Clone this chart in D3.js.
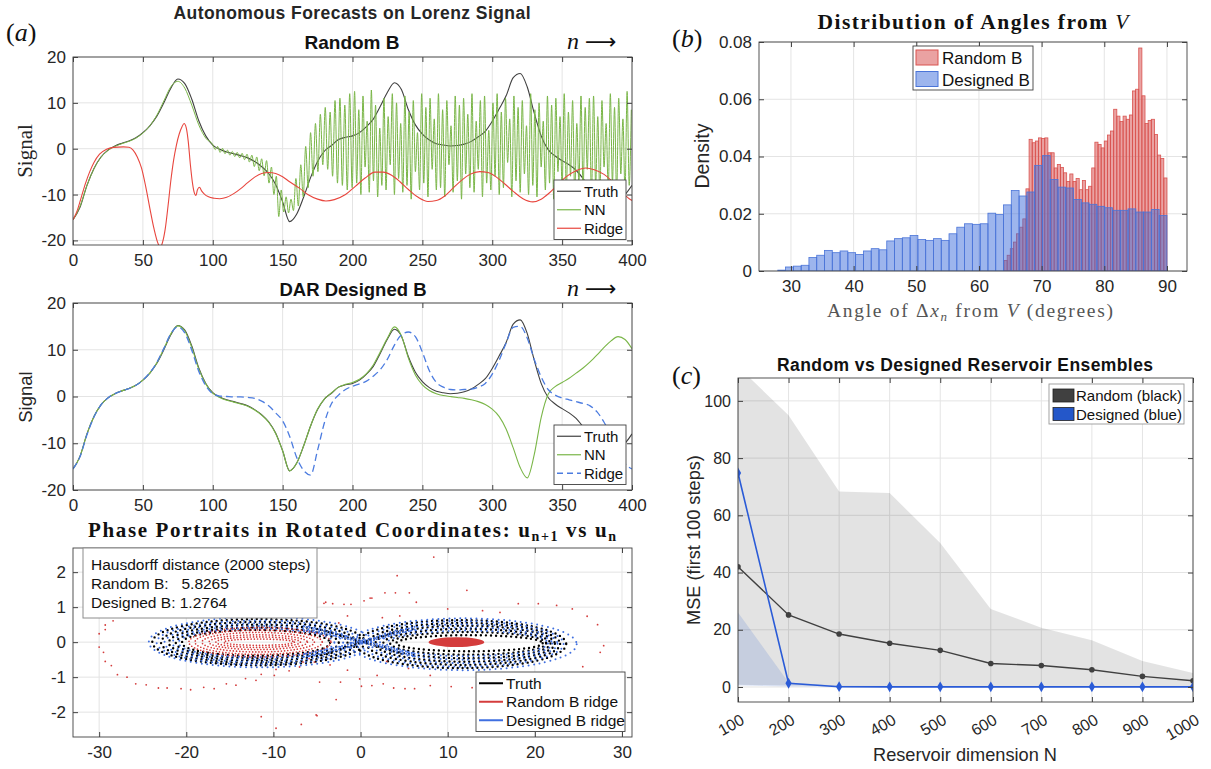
<!DOCTYPE html>
<html>
<head>
<meta charset="utf-8">
<script src="https://cdn.jsdelivr.net/npm/d3@7"></script>
<style>
body { margin: 0; background: #fff; }
svg { display: block; font-family: "Liberation Sans", Arial, Helvetica, sans-serif; }
.pre { white-space: pre; }
</style>
</head>
<body>
<script>
// ---------------------------------------------------------------
// data
// ---------------------------------------------------------------

// time series, n = 0,5,...,400
var nStep = 5;
var truth = [
  -15.5,-12.8,-8.0,-4.3,-1.8,-0.3,0.6,1.2,1.7,2.4,
  3.5,5.0,7.1,10.0,13.2,15.2,14.2,10.8,6.1,2.8,
  0.8,-0.1,-0.7,-1.1,-1.5,-2.0,-2.8,-3.9,-5.4,-7.8,
  -11.6,-15.9,-14.3,-10.6,-6.3,-2.8,-0.5,0.7,2.0,2.5,
  2.8,3.5,4.8,6.5,9.3,12.3,14.4,12.9,8.5,5.2,
  3.2,1.9,1.1,0.8,0.6,0.7,1.0,1.6,2.6,3.8,
  6.0,8.7,11.6,15.5,16.4,13.5,7.8,2.8,-0.2,-1.6,
  -2.6,-3.5,-4.7,-6.5,-8.5,-10.0,-11.0,-11.3,-11.0,-10.0,
  -8.0];

// Random B: NN, smooth part n = 0..95 (step 5), then zigzag parts
var nnRandomSmooth = [-15.5,-12.6,-8.0,-4.4,-1.9,-0.4,0.5,1.1,1.6,2.3,3.4,5.0,7.3,10.4,13.5,14.7,13.2,9.5,5.2,2.3];
var nnRandomZigAStart = 100, nnRandomZigAStep = 1.75;
var nnRandomZigA = [
  0.9,-0.2,0.5,-0.8,0.1,-1.1,-0.3,-1.4,-0.6,-1.7,-0.8,-2.0,-1.0,-2.4,-1.2,-2.9,
  -1.4,-3.9,-1.8,-4.8,-2.2,-5.9,-2.6,
  -7.5,-4.0,-10.0,-6.0,-14.8,-9.0,-13.8,-10.5,-14.0,-11.0,-13.5,
  -6.5,-12.5,-3.5,-10.5,0.5,-8.5,3.5,-6.0,5.5,-5.0,
  7.5,-3.5,9.0,-4.5,8.0,-6.0,10.5,-7.5,11.0,-8.0,9.5,-9.0,12.0,-8.5];
var nnRandomZigBStart = 201.5, nnRandomZigBStep = 1.5;
var nnRandomZigB = [
  12.5,-7.5,8.5,-10.0,11.5,-4.0,6.0,-9.5,12.8,-7.0,9.5,-10.5,4.5,-8.0,11.0,-9.0,7.0,-3.5,12.0,-10.0,
  10.0,-6.5,5.5,-9.5,11.5,-8.0,8.0,-11.0,10.5,-5.0,3.5,-9.0,12.0,-7.5,9.0,-10.5,11.0,-4.5,6.5,-9.0,
  12.0,-8.5,8.5,-10.5,10.5,-3.5,5.0,-9.5,11.5,-7.0,9.5,-11.0,11.0,-5.5,7.5,-8.5,12.0,-9.5,6.0,-4.5,
  10.5,-10.5,11.5,-7.5,4.0,-9.0,10.0,-6.0,12.0,-10.0,8.0,-8.5,11.0,-3.0,6.5,-10.5,11.5,-7.0,9.0,-9.5,
  10.5,-5.5,5.0,-10.0,12.0,-8.0,8.5,-10.5,10.0,-4.0,6.0,-9.0,11.5,-7.5,9.5,-11.0,11.0,-5.0,7.0,-8.5,
  12.0,-9.5,8.0,-6.0,10.5,-10.0,5.5,-7.5,11.5,-9.0,9.0,-4.5,11.0,-10.5,
  11.5,-8.0,7.0,-10.5,10.5,-4.0,5.5,-9.0,12.0,-7.5,9.0,-10.0,11.0,-5.5,6.5,-9.5,12.5,-8.0,8.5];

// Random B: ridge
var ridgeRandomN = [0,3,6,9,12,15,19,24,29,36,40,43,46,49,52,55,58,61,62.5,64,
  66,68,70,72,74,76,78,79.5,81,82.5,84,85.5,87,88,89,90.5,92,94,97,101,
  105,110,115,120,125,130,135,140,145,150,155,162,168,175,181,187,195,202,209,216,
  222,228,234,240,247,254,260,266,272,278,284,291,297,303,309,315,322,329,335,341,
  347,353,360,367,373,380,386,392,398,400];
var ridgeRandomV = [-15.5,-13.5,-10.5,-7.5,-5,-3,-1.2,-0.1,0.3,0.4,0.3,-0.3,-1.8,-4.2,-8.2,-13,-17.5,-20.8,-21.5,-20.5,
  -17.5,-12.5,-7,-2.5,0.8,3.2,4.8,5.5,4.6,1.5,-3.5,-7.5,-9.8,-10.2,-9.0,-8.4,-9.2,-9.9,-10.5,-10.8,
  -10.9,-10.6,-9.8,-8.7,-7.4,-6.2,-5.4,-5.2,-5.4,-6.1,-7.2,-8.6,-10,-11,-11.4,-11.1,-10,-8.2,-6.4,-5.1,
  -5.1,-5.8,-7.2,-8.9,-10.6,-11.5,-11.3,-10.3,-8.6,-6.9,-5.6,-5.0,-5.2,-6.2,-7.7,-9.3,-10.9,-11.6,-11,-9.6,
  -7.8,-6.1,-4.8,-4.2,-4.6,-5.6,-7.2,-9.2,-10.9,-11.3];

// DAR designed B, n = 0,5,...,400
var nnDesigned = [
  -15.5,-12.8,-8.0,-4.3,-1.8,-0.3,0.6,1.2,1.7,2.4,
  3.5,5.0,7.2,10.2,13.4,15.1,14.0,10.5,5.9,2.7,
  0.7,-0.2,-0.8,-1.2,-1.6,-2.1,-2.9,-4.0,-5.5,-7.9,
  -11.6,-15.9,-14.3,-10.6,-6.3,-2.7,-0.5,0.8,2.0,2.6,
  3.0,3.7,4.9,6.8,9.6,
  12.5,14.9,13.0,8.2,4.6,2.5,1.3,0.6,0.2,0.0,
  -0.2,-0.4,-0.7,-1.1,-1.7,-2.7,-4.3,-7.0,-11.0,-15.2,
  -17.4,-12.5,-4.5,0.5,2.1,3.0,3.9,5.0,6.1,7.4,
  8.9,10.5,11.9,12.8,12.2,10.2];
var ridgeDesigned = [
  -15.5,-12.9,-8.2,-4.4,-1.8,-0.3,0.6,1.2,1.7,2.4,
  3.5,5.1,7.3,10.3,13.4,14.9,13.6,9.9,5.4,2.3,
  0.6,0.1,0.0,-0.1,-0.1,-0.2,-0.4,-1.0,-2.0,-3.5,
  -5.2,-8.5,-13.0,-15.8,-16.8,-11.5,-5.5,-1.5,0.3,1.5,
  2.2,2.7,3.3,4.4,5.8,8.0,11.0,13.2,13.8,12.8,
  9.5,5.5,3.0,2.0,1.5,1.4,1.5,1.6,2.0,2.8,
  4.8,7.8,11.5,14.8,15.0,12.5,8.0,4.2,1.5,0.3,
  -0.3,-0.7,-1.1,-1.5,-2.0,-3.3,-5.5,-8.3,-11.5,-14.3,
  -15.5];

var ticksN = [0,50,100,150,200,250,300,350,400];
var ticksSignalTop = [-20,-10,0,10,20];
var ticksSignalMid = [-20,-10,0,10,20];

// phase portrait: rings as [uLeft, uRight, top, bottom]
var truthRingsL = [[-23.9,0.5,0.66,-0.66],[-22.9,-0.5,0.58,-0.6],[-22.0,-1.5,0.5,-0.53],[-21.2,-2.5,0.42,-0.46],[-20.5,-3.5,0.35,-0.39]];
var truthRingsR = [[-0.5,23.6,0.63,-0.74],[0.7,22.9,0.55,-0.65],[1.7,22.3,0.47,-0.56],[2.6,21.8,0.38,-0.46],[3.4,21.3,0.29,-0.36],[4.1,20.9,0.2,-0.26]];
var truthCross = [[[-5,0.38],[0,0.03],[5,-0.36]],[[-5,-0.4],[0,-0.02],[5,0.37]]];
var blueRingsL = [[-24.3,1.2,0.72,-0.72],[-23.4,0,0.62,-0.64],[-22.5,-1,0.54,-0.57],[-21.6,-2,0.46,-0.5],[-20.9,-3,0.39,-0.43]];
var blueRingsR = [[-1.2,24.8,0.68,-0.8],[0.1,23.3,0.6,-0.7],[1.2,22.6,0.51,-0.6],[2.2,22.0,0.42,-0.5],[3.0,21.5,0.33,-0.4]];
var blueCross = [
  [[-6.5,0.45],[-3,0.26],[0,0.06],[3,-0.12],[6.5,-0.35]],
  [[-6.5,0.35],[-3,0.18],[0,0.0],[3,-0.18],[6.5,-0.42]],
  [[-6.5,-0.42],[-3,-0.24],[0,-0.05],[3,0.16],[6.5,0.38]],
  [[-6.5,-0.34],[-3,-0.16],[0,0.02],[3,0.22],[6.5,0.46]]];
var redRingsL = [[-19.7,-3.4,0.42,-0.42],[-19.0,-4.4,0.35,-0.35],[-18.2,-5.3,0.28,-0.28],[-17.4,-6.1,0.21,-0.21],[-16.6,-6.9,0.15,-0.15],[-15.7,-7.6,0.09,-0.09]];
var redBlobR = [[7.8,14.2,0.14,-0.14]];
var redScatter = [
  [-30,0.24],[-30,-0.14],[-29.5,-0.29],[-29.3,-0.55],[-28.6,-0.67],[-27.9,-0.93],[-26.8,-1.0],[-25.8,-1.19],[-24.6,-1.22],[-23.2,-1.31],
  [-22.2,-1.31],[-20.6,-1.33],[-19.5,-1.36],[-18,-1.29],[-16.8,-1.33],[-15.4,-1.19],[-14.3,-1.23],[-13.2,-1.04],[-12,-1.09],[-11.4,-0.92],
  [-9.9,-0.95],[-9.7,-0.78],[-8.2,-0.82],[-7.0,-0.71],[-6.6,-0.57],[-5.9,-0.47],[-5.3,-0.57],[-11.4,-2.13],[-9.7,-2.46],[-6.8,-2.35],
  [-5.1,-2.08],[-4.7,-1.14],[-4.2,1.11],[-29.3,0.49],[-29.3,0.36],[-28.4,0.61],
  [8.4,2.43],[4.2,1.9],[2.8,1.41],[4.0,1.41],[5.6,1.41],[12.2,1.48],[6.4,1.14],[0.4,1.18],[1.1,1.26],[1.3,1.26],
  [-1.1,1.08],[-1.9,1.08],[-3.2,1.1],[-4.0,1.14],[18.1,1.1],[20.4,1.1],[22.5,1.05],[24.3,0.95],[26.0,0.74],[27.2,0.5],
  [27.9,-0.1],[27.5,-0.29],[25.5,-0.7],[12.8,-1.3],[10.4,-1.27],[8.0,-1.24],[6.2,-1.33],[5.1,-1.33],[3.8,-1.31],[2.6,-1.19],
  [1.3,-1.24],[0.1,-1.26],[-0.1,-1.05],[-2.3,-1.14],[-2.8,-1.64],[-5.0,-2.1],[1.9,-0.95],
  [-2.5,0.55],[-1.5,0.75],[2.5,0.7],[4.5,0.75],[3.0,-0.55],[5.5,-0.75],[-3.5,-0.65],[-1.5,-0.8],
  [10,0.95],[14,0.9],[16,0.85],[8,-0.95],[15,-0.95],[18,-0.95],[-10,0.9]];
var ticksU = [-30,-20,-10,0,10,20,30];
var ticksU1 = [-2,-1,0,1,2];
var hausdorffLines = ["Hausdorff distance (2000 steps)", "Random B:   5.8265", "Designed B: 1.2764"];

// histogram of angles
var redBinStart = 64.0, redBinWidth = 0.5;
var histRandom = [
  0.0037,0.0055,0.0078,0.0101,0.013,0.0153,0.0182,0.0287,
  0.046,0.0448,0.0454,0.0465,0.0463,0.0465,0.0413,0.0413,0.036,0.0372,0.0362,0.0343,0.0313,0.0339,0.0313,0.0323,0.0284,0.0316,0.0284,0.0296,0.036,
  0.045,0.0442,0.043,0.0454,0.0475,0.0489,0.0565,0.0541,0.0522,0.0541,0.053,0.0545,0.0629,0.0635,0.0779,0.0612,0.0515,0.0526,0.053,0.0477,0.0405,0.0393,0.0325];
var blueBinStart = 27.9, blueBinWidth = 1.242;
var histDesigned = [
  0.0003,0.0014,0.0017,0.002,0.0047,0.0055,0.0072,0.0064,0.007,0.0064,0.0058,
  0.007,0.0078,0.0074,0.0105,0.0113,0.0116,0.0124,0.011,0.0107,0.0113,
  0.0107,0.013,0.0153,0.0165,0.0163,0.0165,0.0202,0.0197,0.0231,0.0281,
  0.0262,0.0276,0.0369,0.0403,0.032,0.0293,0.029,0.025,0.0238,0.0233,
  0.0226,0.0221,0.0212,0.0212,0.0217,0.0206,0.0206,0.0215,0.0194];
var ticksAngle = [30,40,50,60,70,80,90];
var ticksDensity = [0,0.02,0.04,0.06,0.08];
var ticksDensityLabels = ["0","0.02","0.04","0.06","0.08"];

// reservoir ensembles
var resN = [100,200,300,400,500,600,700,800,900,1000];
var mseRandom = [42,25.2,18.5,15.3,12.8,8.2,7.5,6.0,3.7,2.2];
var mseDesigned = [74.8,1.3,0.1,0.05,0.05,0.05,0.05,0.05,0.05,0.05];
var bandRandomHi = [112,95,68.3,67.8,50.3,27.3,20.7,16.3,9.1,4.9];
var bandRandomLo = [0.8,0.5,0.3,0.3,0.3,0.2,0.2,0.2,0.2,0.2];
var bandDesignedHi = [26,1.6,0.4,0.3,0.3,0.3,0.3,0.3,0.3,0.3];
var bandDesignedLo = [0.5,0.2,0.05,0.05,0.05,0.05,0.05,0.05,0.05,0.05];
var ticksMSE = [0,20,40,60,80,100];

// ---------------------------------------------------------------
// drawing
// ---------------------------------------------------------------
var W = 1211, H = 769;
var svg = d3.select("body").append("svg").attr("width", W).attr("height", H);
var defs = svg.append("defs");
var clipCount = 0;

var cTruth = "#404040", cNN = "#7ab648", cRidge = "#e8463e", cRidgeBlue = "#4c7ce0";
var cRed = "#d43c3c", cBlue = "#3f6fe0";

function makePanel(o) {
  var p = {o: o};
  p.x = d3.scaleLinear().domain(o.xDomain).range([o.left, o.right]);
  p.y = d3.scaleLinear().domain(o.yDomain).range([o.bottom, o.top]);
  p.g = svg.append("g");
  var id = "clip" + (clipCount++);
  defs.append("clipPath").attr("id", id).append("rect")
    .attr("x", o.left).attr("y", o.top)
    .attr("width", o.right - o.left).attr("height", o.bottom - o.top);
  var grid = p.g.append("g").attr("stroke", "#e4e4e4").attr("stroke-width", 1);
  grid.selectAll("line.gx").data(o.xTicks).join("line").attr("class", "gx")
    .attr("x1", d => p.x(d)).attr("x2", d => p.x(d))
    .attr("y1", o.top).attr("y2", o.bottom);
  grid.selectAll("line.gy").data(o.yTicks).join("line").attr("class", "gy")
    .attr("x1", o.left).attr("x2", o.right)
    .attr("y1", d => p.y(d)).attr("y2", d => p.y(d));
  p.plot = p.g.append("g").attr("clip-path", "url(#" + id + ")");
  return p;
}

function styleAxis(a, fs) {
  a.attr("font-size", fs).attr("font-family", null).attr("color", "#262626");
  a.select(".domain").remove();
  a.selectAll(".tick line").attr("stroke", "#404040");
}

function drawFrame(p, opt) {
  var o = p.o;
  var fr = p.g.append("g");
  var xl = opt.xLabels || o.xTicks.map(String);
  var yl = opt.yLabels || o.yTicks.map(String);
  var bx = fr.append("g").attr("transform", "translate(0," + o.bottom + ")")
    .call(d3.axisBottom(p.x).tickValues(o.xTicks).tickSize(-5).tickSizeOuter(0)
      .tickPadding(opt.xPad).tickFormat(d => xl[o.xTicks.indexOf(d)]));
  styleAxis(bx, opt.fs);
  var ly = fr.append("g").attr("transform", "translate(" + o.left + ",0)")
    .call(d3.axisLeft(p.y).tickValues(o.yTicks).tickSize(-5).tickSizeOuter(0)
      .tickPadding(opt.yPad).tickFormat(d => yl[o.yTicks.indexOf(d)]));
  styleAxis(ly, opt.fs);
  var tx = fr.append("g").attr("transform", "translate(0," + o.top + ")")
    .call(d3.axisTop(p.x).tickValues(o.xTicks).tickSize(-5).tickSizeOuter(0).tickFormat(""));
  styleAxis(tx, opt.fs);
  var ry = fr.append("g").attr("transform", "translate(" + o.right + ",0)")
    .call(d3.axisRight(p.y).tickValues(o.yTicks).tickSize(-5).tickSizeOuter(0).tickFormat(""));
  styleAxis(ry, opt.fs);
  fr.append("rect").attr("x", o.left).attr("y", o.top)
    .attr("width", o.right - o.left).attr("height", o.bottom - o.top)
    .attr("fill", "none").attr("stroke", "#404040").attr("stroke-width", 0.9);
  return {bottom: bx};
}

function text(x, y, str, attrs) {
  var t = svg.append("text").attr("x", x).attr("y", y).text(str);
  for (var k in attrs) t.attr(k, attrs[k]);
  return t;
}

function lineLegend(x0, y0, w, rows, entries, fs, sample) {
  var lg = svg.append("g");
  lg.append("rect").attr("x", x0).attr("y", y0).attr("width", w).attr("height", rows * entries.length + 4)
    .attr("fill", "#fff").attr("stroke", "#404040").attr("stroke-width", 0.9);
  entries.forEach(function(e, i) {
    var cy = y0 + 2 + rows * (i + 0.5);
    lg.append("line").attr("x1", x0 + 3).attr("x2", x0 + 3 + sample).attr("y1", cy).attr("y2", cy)
      .attr("stroke", e.color).attr("stroke-width", e.width || 1.2)
      .attr("stroke-dasharray", e.dash || null);
    lg.append("text").attr("x", x0 + 6 + sample).attr("y", cy).attr("dy", "0.36em")
      .attr("font-size", fs).attr("fill", "#111").text(e.label);
  });
}

function nArrow(x, y) {
  var t = text(x, y, "", {"font-size": 24, "font-family": serif, fill: "#111"});
  t.append("tspan").attr("font-style", "italic").text("n");
  t.append("tspan").attr("font-family", "'DejaVu Sans', sans-serif").attr("font-size", 22)
    .attr("dx", 6).text("\u27F6");
}

var serif = "'Liberation Serif', 'DejaVu Serif', serif";

// ---------------- panel (a) top: Random B ----------------
var pA1 = makePanel({left: 73, right: 632, top: 57, bottom: 245,
  xDomain: [0, 400], yDomain: [-21, 20], xTicks: ticksN, yTicks: ticksSignalTop});
var lineA1 = d3.line().x(d => pA1.x(d[0])).y(d => pA1.y(d[1])).curve(d3.curveMonotoneX);
var truthPts = truth.map((v, i) => [i * nStep, v]);
var nnRandomPts = nnRandomSmooth.map((v, i) => [i * nStep, v])
  .concat(nnRandomZigA.map((v, i) => [nnRandomZigAStart + i * nnRandomZigAStep, v]))
  .concat(nnRandomZigB.map((v, i) => [nnRandomZigBStart + i * nnRandomZigBStep, v]));
var ridgeRandomPts = ridgeRandomN.map((n, i) => [n, ridgeRandomV[i]]);
pA1.plot.append("path").datum(truthPts).attr("d", lineA1).attr("fill", "none").attr("stroke", cTruth).attr("stroke-width", 1.1);
pA1.plot.append("path").datum(nnRandomPts).attr("d", lineA1).attr("fill", "none").attr("stroke", cNN).attr("stroke-width", 1);
pA1.plot.append("path").datum(ridgeRandomPts).attr("d", lineA1).attr("fill", "none").attr("stroke", cRidge).attr("stroke-width", 1.1);
drawFrame(pA1, {fs: 17, xPad: 9, yPad: 7});
lineLegend(554, 180, 72, 18.5, [
  {label: "Truth", color: cTruth}, {label: "NN", color: cNN}, {label: "Ridge", color: cRidge}], 15, 24);

text(352, 19, "Autonomous Forecasts on Lorenz Signal", {"font-size": 17.5, "font-weight": "bold", "text-anchor": "middle", fill: "#262626", textLength: 357, lengthAdjust: "spacing"});
text(352, 49, "Random B", {"font-size": 19, "font-weight": "bold", "text-anchor": "middle", fill: "#111"});
nArrow(567, 49);
var lab_a = text(6, 41, "", {"font-size": 26, "font-family": serif, fill: "#111"});
lab_a.append("tspan").text("(");
lab_a.append("tspan").attr("font-style", "italic").text("a");
lab_a.append("tspan").text(")");
text(0, 0, "Signal", {"font-size": 21, "font-family": serif, "text-anchor": "middle", fill: "#262626",
  transform: "translate(32,151) rotate(-90)"});

// ---------------- panel (a) middle: DAR designed B ----------------
var pA2 = makePanel({left: 73, right: 632, top: 303, bottom: 490,
  xDomain: [0, 400], yDomain: [-20, 20], xTicks: ticksN, yTicks: ticksSignalMid});
var lineA2 = d3.line().x(d => pA2.x(d[0])).y(d => pA2.y(d[1])).curve(d3.curveMonotoneX);
pA2.plot.append("path").datum(truthPts).attr("d", lineA2).attr("fill", "none").attr("stroke", cTruth).attr("stroke-width", 1.1);
pA2.plot.append("path").datum(nnDesigned.map((v, i) => [i * nStep, v])).attr("d", lineA2)
  .attr("fill", "none").attr("stroke", cNN).attr("stroke-width", 1.1);
pA2.plot.append("path").datum(ridgeDesigned.map((v, i) => [i * nStep, v])).attr("d", lineA2)
  .attr("fill", "none").attr("stroke", cRidgeBlue).attr("stroke-width", 1.3).attr("stroke-dasharray", "7 4");
drawFrame(pA2, {fs: 17, xPad: 9, yPad: 7});
lineLegend(554, 425, 72, 18.5, [
  {label: "Truth", color: cTruth}, {label: "NN", color: cNN}, {label: "Ridge", color: cRidgeBlue, dash: "6 4", width: 1.3}], 15, 24);
text(353, 296, "DAR Designed B", {"font-size": 18.5, "font-weight": "bold", "text-anchor": "middle", fill: "#111"});
nArrow(567, 296);
text(0, 0, "Signal", {"font-size": 18.5, "text-anchor": "middle", fill: "#262626",
  transform: "translate(32,397) rotate(-90)"});

// ---------------- panel (a) bottom: phase portraits ----------------
var pA3 = makePanel({left: 73, right: 632, top: 548, bottom: 737,
  xDomain: [-33, 31.15], yDomain: [-2.71, 2.69], xTicks: ticksU, yTicks: ticksU1});

function dottedRings(p, rings, color, gap, width) {
  p.plot.append("g").selectAll("ellipse").data(rings).join("ellipse")
    .attr("cx", d => (p.x(d[0]) + p.x(d[1])) / 2)
    .attr("rx", d => (p.x(d[1]) - p.x(d[0])) / 2)
    .attr("cy", d => (p.y(d[2]) + p.y(d[3])) / 2)
    .attr("ry", d => (p.y(d[3]) - p.y(d[2])) / 2)
    .attr("fill", "none").attr("stroke", color).attr("stroke-width", width)
    .attr("stroke-dasharray", "0 " + gap).attr("stroke-linecap", "round");
}
function dottedPaths(p, paths, color, gap, width) {
  var ln = d3.line().x(d => p.x(d[0])).y(d => p.y(d[1])).curve(d3.curveMonotoneX);
  p.plot.append("g").selectAll("path").data(paths).join("path")
    .attr("d", ln).attr("fill", "none").attr("stroke", color).attr("stroke-width", width)
    .attr("stroke-dasharray", "0 " + gap).attr("stroke-linecap", "round");
}
dottedRings(pA3, truthRingsL, "#000", 5, 2.4);
dottedRings(pA3, truthRingsR, "#000", 5, 2.4);
dottedPaths(pA3, truthCross, "#000", 4, 2.4);
pA3.plot.append("g").selectAll("circle").data(redScatter).join("circle")
  .attr("cx", d => pA3.x(d[0])).attr("cy", d => pA3.y(d[1])).attr("r", 0.9).attr("fill", cRed);
dottedRings(pA3, redRingsL, cRed, 3.2, 1.7);
pA3.plot.append("g").selectAll("ellipse").data(redBlobR).join("ellipse")
  .attr("cx", d => (pA3.x(d[0]) + pA3.x(d[1])) / 2)
  .attr("rx", d => (pA3.x(d[1]) - pA3.x(d[0])) / 2)
  .attr("cy", d => (pA3.y(d[2]) + pA3.y(d[3])) / 2)
  .attr("ry", d => (pA3.y(d[3]) - pA3.y(d[2])) / 2)
  .attr("fill", cRed);
dottedRings(pA3, blueRingsL, cBlue, 5.5, 2.0);
dottedRings(pA3, blueRingsR, cBlue, 5.5, 2.0);
dottedPaths(pA3, blueCross, cBlue, 3, 2.0);
drawFrame(pA3, {fs: 17, xPad: 9, yPad: 7});

var hb = svg.append("g");
hb.append("rect").attr("x", 83).attr("y", 548).attr("width", 234).attr("height", 70)
  .attr("fill", "#fff").attr("stroke", "#8c8c8c").attr("stroke-width", 1);
hb.selectAll("text").data(hausdorffLines).join("text").attr("class", "pre")
  .attr("x", 91).attr("y", (d, i) => 570 + i * 18.8)
  .attr("font-size", 15.5).attr("fill", "#111").text(d => d);

lineLegend(476, 672, 149, 18.5, [
  {label: "Truth", color: "#000", width: 2}, {label: "Random B ridge", color: cRed, width: 2},
  {label: "Designed B ridge", color: cBlue, width: 2}], 15.5, 24);

var t3 = text(352, 537, "", {"font-size": 21, "font-family": serif, "font-weight": "bold", "text-anchor": "middle",
  fill: "#111", textLength: 528, lengthAdjust: "spacing"});
t3.append("tspan").text("Phase Portraits in Rotated Coordinates: u");
t3.append("tspan").attr("font-size", 14).attr("dy", 4).text("n+1");
t3.append("tspan").attr("dy", -4).text(" vs u");
t3.append("tspan").attr("font-size", 14).attr("dy", 4).text("n");

// ---------------- panel (b): histogram ----------------
var pB = makePanel({left: 759, right: 1187, top: 42, bottom: 271,
  xDomain: [24.9, 93.2], yDomain: [0, 0.08], xTicks: ticksAngle, yTicks: ticksDensity});
pB.plot.append("g").selectAll("rect").data(histRandom).join("rect")
  .attr("x", (d, i) => pB.x(redBinStart + i * redBinWidth))
  .attr("width", (d, i) => pB.x(redBinStart + (i + 1) * redBinWidth) - pB.x(redBinStart + i * redBinWidth))
  .attr("y", d => pB.y(d)).attr("height", d => pB.y(0) - pB.y(d))
  .attr("fill", "rgba(214,70,70,0.5)").attr("stroke", "#d9534f").attr("stroke-width", 0.8);
pB.plot.append("g").selectAll("rect").data(histDesigned).join("rect")
  .attr("x", (d, i) => pB.x(blueBinStart + i * blueBinWidth))
  .attr("width", (d, i) => pB.x(blueBinStart + (i + 1) * blueBinWidth) - pB.x(blueBinStart + i * blueBinWidth))
  .attr("y", d => pB.y(d)).attr("height", d => pB.y(0) - pB.y(d))
  .attr("fill", "rgba(60,108,220,0.5)").attr("stroke", "#4a74d8").attr("stroke-width", 0.8);
drawFrame(pB, {fs: 17, xPad: 9, yPad: 7, yLabels: ticksDensityLabels});

var lgB = svg.append("g");
lgB.append("rect").attr("x", 913).attr("y", 46).attr("width", 120).attr("height", 44)
  .attr("fill", "#fff").attr("stroke", "#404040").attr("stroke-width", 0.9);
[["Random B", "rgba(214,70,70,0.5)", "#d9534f"], ["Designed B", "rgba(60,108,220,0.5)", "#4a74d8"]].forEach(function(e, i) {
  lgB.append("rect").attr("x", 916).attr("y", 50 + i * 21.5).attr("width", 22).attr("height", 15)
    .attr("fill", e[1]).attr("stroke", e[2]);
  lgB.append("text").attr("x", 942).attr("y", 58 + i * 21.5).attr("dy", "0.36em")
    .attr("font-size", 17).attr("fill", "#111").text(e[0]);
});

var tB = text(973, 29, "", {"font-size": 21.5, "font-family": serif, "font-weight": "bold", "text-anchor": "middle",
  fill: "#111", textLength: 311, lengthAdjust: "spacing"});
tB.append("tspan").text("Distribution of Angles from ");
tB.append("tspan").attr("font-style", "italic").attr("font-weight", "normal").text("V");
var xB = text(970, 317, "", {"font-size": 19.5, "font-family": serif, "text-anchor": "middle", fill: "#555",
  textLength: 286, lengthAdjust: "spacing"});
xB.append("tspan").text("Angle of \u0394");
xB.append("tspan").attr("font-style", "italic").text("x");
xB.append("tspan").attr("font-style", "italic").attr("font-size", 13).attr("dy", 4).text("n");
xB.append("tspan").attr("dy", -4).text(" from ");
xB.append("tspan").attr("font-style", "italic").text("V");
xB.append("tspan").text(" (degrees)");
text(0, 0, "Density", {"font-size": 19.5, "text-anchor": "middle", fill: "#262626",
  transform: "translate(709,156) rotate(-90)"});
var lab_b = text(672, 47, "", {"font-size": 26, "font-family": serif, fill: "#111"});
lab_b.append("tspan").text("(");
lab_b.append("tspan").attr("font-style", "italic").text("b");
lab_b.append("tspan").text(")");

// ---------------- panel (c): ensembles ----------------
var pC = makePanel({left: 738, right: 1193, top: 378, bottom: 702,
  xDomain: [100, 1000], yDomain: [-5.25, 108], xTicks: resN, yTicks: ticksMSE});
var areaC = d3.area().x(d => pC.x(d[0])).y0(d => pC.y(d[1])).y1(d => pC.y(d[2]));
pC.plot.append("path").datum(resN.map((n, i) => [n, bandRandomLo[i], bandRandomHi[i]]))
  .attr("d", areaC).attr("fill", "rgba(0,0,0,0.11)");
pC.plot.append("path").datum(resN.map((n, i) => [n, bandDesignedLo[i], bandDesignedHi[i]]))
  .attr("d", areaC).attr("fill", "rgba(36,87,201,0.15)");
var lineC = d3.line().x(d => pC.x(d[0])).y(d => pC.y(d[1]));
var blackPts = resN.map((n, i) => [n, mseRandom[i]]);
var bluePts = resN.map((n, i) => [n, mseDesigned[i]]);
pC.plot.append("path").datum(blackPts).attr("d", lineC).attr("fill", "none").attr("stroke", "#404040").attr("stroke-width", 1.4);
pC.plot.append("g").selectAll("circle").data(blackPts).join("circle")
  .attr("cx", d => pC.x(d[0])).attr("cy", d => pC.y(d[1])).attr("r", 2.8).attr("fill", "#404040");
pC.plot.append("path").datum(bluePts).attr("d", lineC).attr("fill", "none").attr("stroke", "#2a5bd7").attr("stroke-width", 1.6);
pC.plot.append("g").selectAll("path.dm").data(bluePts).join("path").attr("class", "dm")
  .attr("d", d3.symbol(d3.symbolDiamond, 34))
  .attr("transform", d => "translate(" + pC.x(d[0]) + "," + pC.y(d[1]) + ")")
  .attr("fill", "#2a5bd7");
var frC = drawFrame(pC, {fs: 16, xPad: 10, yPad: 7});
frC.bottom.selectAll(".tick text")
  .attr("y", 0).attr("dy", 0).attr("text-anchor", "end")
  .attr("transform", "translate(7,21) rotate(-30)");

var lgC = svg.append("g");
lgC.append("rect").attr("x", 1049).attr("y", 384).attr("width", 135).attr("height", 40)
  .attr("fill", "#fff").attr("stroke", "#999").attr("stroke-width", 0.9);
[["Random (black)", "#404040"], ["Designed (blue)", "#2457c9"]].forEach(function(e, i) {
  lgC.append("rect").attr("x", 1053).attr("y", 389 + i * 18.5).attr("width", 21).attr("height", 13)
    .attr("fill", e[1]).attr("stroke", "#222").attr("stroke-width", 0.8);
  lgC.append("text").attr("x", 1076).attr("y", 396 + i * 18.5).attr("dy", "0.36em")
    .attr("font-size", 15).attr("fill", "#111").text(e[0]);
});

text(965, 371, "Random vs Designed Reservoir Ensembles", {"font-size": 17.5, "font-weight": "bold", "text-anchor": "middle",
  fill: "#111", textLength: 376, lengthAdjust: "spacing"});
text(965, 761, "Reservoir dimension N", {"font-size": 18.2, "text-anchor": "middle", fill: "#262626"});
text(0, 0, "MSE (first 100 steps)", {"font-size": 18.2, "text-anchor": "middle", fill: "#262626",
  transform: "translate(700,540) rotate(-90)"});
var lab_c = text(672, 384, "", {"font-size": 26, "font-family": serif, fill: "#111"});
lab_c.append("tspan").text("(");
lab_c.append("tspan").attr("font-style", "italic").text("c");
lab_c.append("tspan").text(")");
</script>
</body>
</html>
